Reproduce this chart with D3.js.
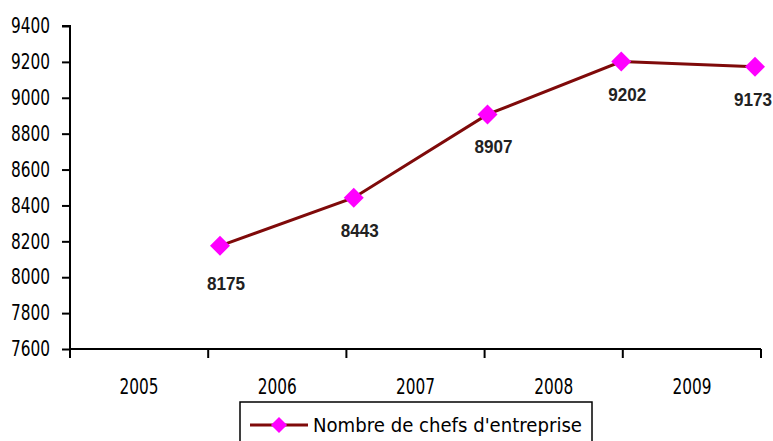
<!DOCTYPE html>
<html>
<head>
<meta charset="utf-8">
<script src="https://cdn.jsdelivr.net/npm/d3@7"></script>
<style>
  body { margin: 0; background: #fff; }
  svg { display: block; }
  .axis text { font-family: "DejaVu Sans Condensed", "DejaVu Sans", sans-serif; font-size: 21px; fill: #000; }
  .axis path, .axis line { stroke: #000; stroke-width: 2; }
</style>
</head>
<body>
<svg width="773" height="441"></svg>
<script>
var years = ["2005", "2006", "2007", "2008", "2009"];
var chefs = [8175, 8443, 8907, 9202, 9173];
var yTicks = [7600, 7800, 8000, 8200, 8400, 8600, 8800, 9000, 9200, 9400];
var seriesName = "Nombre de chefs d'entreprise";

var svg = d3.select("svg");
var mLeft = 70, mRight = 761, mTop = 26, mBottom = 349;

var x = d3.scaleBand().domain(years).range([mLeft, mRight]);
// the markers in the original sit slightly off the category boundaries
var xp = d3.scalePoint().domain(years).range([220, 755]);
var y = d3.scaleLinear().domain([7600, 9400]).range([mBottom, mTop]);

var yAxis = svg.append("g")
	.attr("class", "axis")
	.attr("transform", "translate(" + mLeft + ",0)")
	.call(d3.axisLeft(y).tickValues(yTicks).tickSize(8).tickPadding(12).tickFormat(d3.format("d")));
yAxis.select(".domain").attr("d", "M-8," + mTop + "H0V" + mBottom);
yAxis.selectAll("text").attr("textLength", 39).attr("lengthAdjust", "spacingAndGlyphs");

var xAxis = svg.append("g")
	.attr("class", "axis")
	.attr("transform", "translate(0," + mBottom + ")")
	.call(d3.axisBottom(x).tickSize(0).tickPadding(30));
xAxis.select(".domain").attr("d", "M" + mLeft + ",0H" + mRight);
xAxis.selectAll("text").attr("textLength", 39).attr("lengthAdjust", "spacingAndGlyphs");
xAxis.selectAll(".bnd")
	.data(years.concat(["end"]))
	.enter().append("line")
	.attr("x1", function(d){ return d == "end" ? mRight : x(d); })
	.attr("x2", function(d){ return d == "end" ? mRight : x(d); })
	.attr("y1", 0).attr("y2", 9)
	.style("stroke", "#000").style("stroke-width", 2);

var line = d3.line()
	.x(function(d, i){ return xp(years[i]); })
	.y(function(d){ return y(d); });

svg.append("path")
	.datum(chefs)
	.attr("d", line)
	.style("fill", "none")
	.style("stroke", "#7f0a0a")
	.style("stroke-width", 3);

var diamond = d3.symbol().type(d3.symbolSquare).size(200);
svg.selectAll(".pt")
	.data(chefs)
	.enter().append("path")
	.attr("class", "pt")
	.attr("d", diamond)
	.attr("transform", function(d, i){ return "translate(" + xp(years[i]) + "," + y(d) + ") rotate(45)"; })
	.style("fill", "#ff00ff");

svg.selectAll(".lbl")
	.data(chefs)
	.enter().append("text")
	.attr("class", "lbl")
	.attr("x", function(d, i){ return Math.min(xp(years[i]) + 6, 753); })
	.attr("y", function(d, i){ return y(d) + (i == 0 ? 44 : 39); })
	.attr("text-anchor", "middle")
	.attr("textLength", 38)
	.attr("lengthAdjust", "spacingAndGlyphs")
	.style("font-family", "'Liberation Sans', Arial, sans-serif")
	.style("font-weight", "bold")
	.style("font-size", "18px")
	.style("fill", "#222")
	.text(function(d){ return d; });

// legend
var lg = svg.append("g");
lg.append("rect")
	.attr("x", 240).attr("y", 402).attr("width", 352).attr("height", 45)
	.style("fill", "#fff").style("stroke", "#000").style("stroke-width", 1.5);
lg.append("line")
	.attr("x1", 250).attr("x2", 308).attr("y1", 425).attr("y2", 425)
	.style("stroke", "#7f0a0a").style("stroke-width", 3);
lg.append("path")
	.attr("d", d3.symbol().type(d3.symbolSquare).size(130))
	.attr("transform", "translate(279,425) rotate(45)")
	.style("fill", "#ff00ff");
lg.append("text")
	.attr("x", 313).attr("y", 432)
	.attr("textLength", 269)
	.attr("lengthAdjust", "spacingAndGlyphs")
	.style("font-family", "'DejaVu Sans Condensed', 'DejaVu Sans', sans-serif")
	.style("font-size", "20px")
	.text(seriesName);
</script>
</body>
</html>
